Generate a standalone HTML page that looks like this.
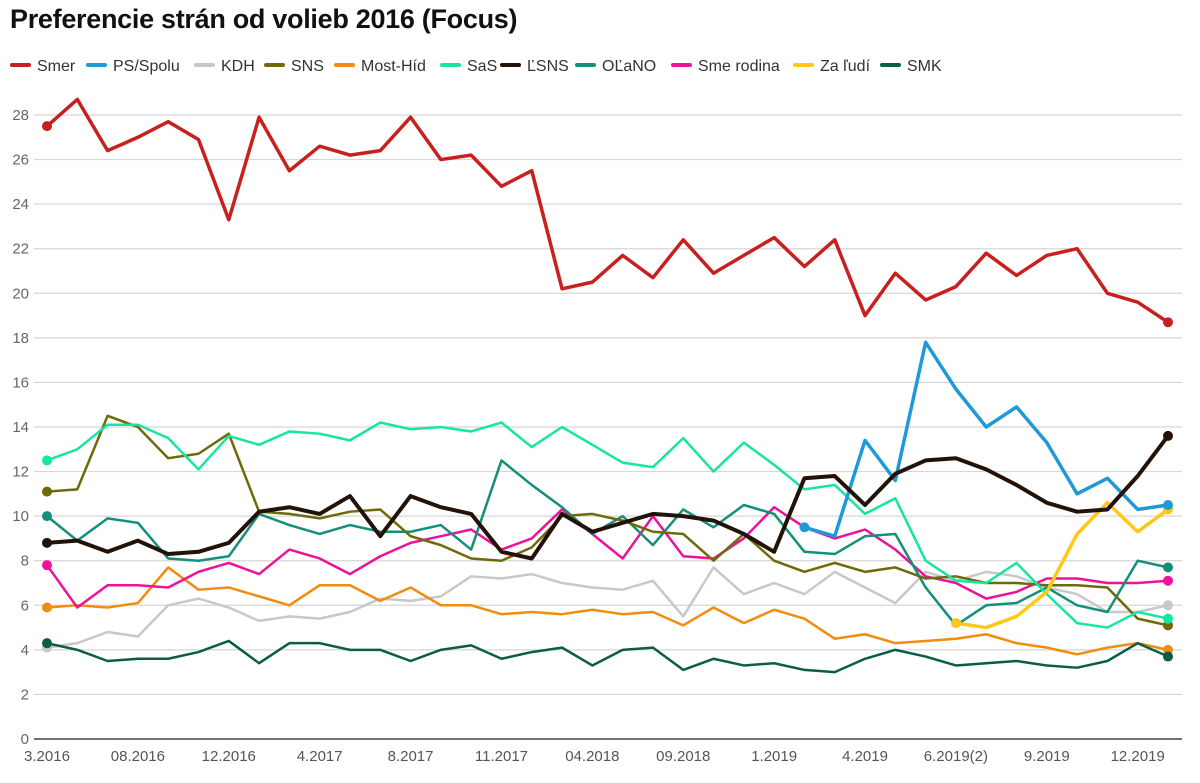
<!DOCTYPE html>
<html><head><meta charset="utf-8"><style>
body{margin:0;background:#fff;width:1200px;height:783px;overflow:hidden;font-family:"Liberation Sans",sans-serif;}
#title{position:absolute;left:10px;top:4px;font-size:27px;font-weight:bold;color:#111;letter-spacing:-0.3px}
.leg{position:absolute;top:58px;font-size:16px;color:#333;white-space:nowrap}
.leg i{display:inline-block;width:21px;height:4px;border-radius:2px;vertical-align:middle;margin-right:6px;position:relative;top:-2px}
svg{position:absolute;left:0;top:0}
</style></head><body>
<div id="title">Preferencie strán od volieb 2016 (Focus)</div>
<div id="legend"></div>
<svg id="chart" width="1200" height="783"></svg>
<script>
const categories=["3.2016","","","08.2016","","","12.2016","","","4.2017","","","8.2017","","","11.2017","","","04.2018","","","09.2018","","","1.2019","","","4.2019","","","6.2019(2)","","","9.2019","","","12.2019",""];
const yTicks=[0,2,4,6,8,10,12,14,16,18,20,22,24,26,28];
const names=["Smer","PS/Spolu","KDH","SNS","Most-Híd","SaS","ĽSNS","OĽaNO","Sme rodina","Za ľudí","SMK"];
const colors=["#c8201e","#1f9ad6","#c8c8c8","#6e6a0a","#f28c0f","#15e6a0","#231208","#13907a","#ee1199","#ffc814","#0b5e46"];
const smer=[27.5,28.7,26.4,27.0,27.7,26.9,23.3,27.9,25.5,26.6,26.2,26.4,27.9,26.0,26.2,24.8,25.5,20.2,20.5,21.7,20.7,22.4,20.9,21.7,22.5,21.2,22.4,19.0,20.9,19.7,20.3,21.8,20.8,21.7,22.0,20.0,19.6,18.7];
const ps=[null,null,null,null,null,null,null,null,null,null,null,null,null,null,null,null,null,null,null,null,null,null,null,null,null,9.5,9.1,13.4,11.6,17.8,15.7,14.0,14.9,13.3,11.0,11.7,10.3,10.5];
const kdh=[4.1,4.3,4.8,4.6,6.0,6.3,5.9,5.3,5.5,5.4,5.7,6.3,6.2,6.4,7.3,7.2,7.4,7.0,6.8,6.7,7.1,5.5,7.7,6.5,7.0,6.5,7.5,6.8,6.1,7.5,7.1,7.5,7.3,6.8,6.5,5.7,5.7,6.0];
const sns=[11.1,11.2,14.5,14.0,12.6,12.8,13.7,10.2,10.1,9.9,10.2,10.3,9.1,8.7,8.1,8.0,8.6,10.0,10.1,9.8,9.3,9.2,8.0,9.2,8.0,7.5,7.9,7.5,7.7,7.2,7.3,7.0,7.0,6.9,6.9,6.8,5.4,5.1];
const most=[5.9,6.0,5.9,6.1,7.7,6.7,6.8,6.4,6.0,6.9,6.9,6.2,6.8,6.0,6.0,5.6,5.7,5.6,5.8,5.6,5.7,5.1,5.9,5.2,5.8,5.4,4.5,4.7,4.3,4.4,4.5,4.7,4.3,4.1,3.8,4.1,4.3,4.0];
const sas=[12.5,13.0,14.1,14.1,13.5,12.1,13.6,13.2,13.8,13.7,13.4,14.2,13.9,14.0,13.8,14.2,13.1,14.0,13.2,12.4,12.2,13.5,12.0,13.3,12.3,11.2,11.4,10.1,10.8,8.0,7.1,7.0,7.9,6.5,5.2,5.0,5.7,5.4];
const lsns=[8.8,8.9,8.4,8.9,8.3,8.4,8.8,10.2,10.4,10.1,10.9,9.1,10.9,10.4,10.1,8.4,8.1,10.1,9.3,9.7,10.1,10.0,9.8,9.2,8.4,11.7,11.8,10.5,11.9,12.5,12.6,12.1,11.4,10.6,10.2,10.3,11.8,13.6];
const olano=[10.0,8.9,9.9,9.7,8.1,8.0,8.2,10.1,9.6,9.2,9.6,9.3,9.3,9.6,8.5,12.5,11.4,10.4,9.2,10.0,8.7,10.3,9.5,10.5,10.1,8.4,8.3,9.1,9.2,6.8,5.1,6.0,6.1,6.8,6.0,5.7,8.0,7.7];
const smeRodina=[7.8,5.9,6.9,6.9,6.8,7.5,7.9,7.4,8.5,8.1,7.4,8.2,8.8,9.1,9.4,8.5,9.0,10.3,9.2,8.1,10.0,8.2,8.1,9.0,10.4,9.5,9.0,9.4,8.5,7.3,7.0,6.3,6.6,7.2,7.2,7.0,7.0,7.1];
const zaLudi=[null,null,null,null,null,null,null,null,null,null,null,null,null,null,null,null,null,null,null,null,null,null,null,null,null,null,null,null,null,null,5.2,5.0,5.5,6.6,9.2,10.6,9.3,10.3];
const smk=[4.3,4.0,3.5,3.6,3.6,3.9,4.4,3.4,4.3,4.3,4.0,4.0,3.5,4.0,4.2,3.6,3.9,4.1,3.3,4.0,4.1,3.1,3.6,3.3,3.4,3.1,3.0,3.6,4.0,3.7,3.3,3.4,3.5,3.3,3.2,3.5,4.3,3.7];
const series=[smer,ps,kdh,sns,most,sas,lsns,olano,smeRodina,zaLudi,smk];
const widths=[3.5,3.5,2.5,2.5,2.5,2.5,4,2.5,2.5,3.5,2.5];
const drawOrder=[2,4,10,8,7,3,5,9,1,6,0];
const legX=[10,86,194,264,334,440,500,575,671,793,880];

const NS="http://www.w3.org/2000/svg";
const svg=document.getElementById('chart');
const x0=47,x1=1168,yBase=739,yTop=115,yMaxV=28;
function xs(i){return x0+(x1-x0)*i/(categories.length-1);}
function ys(v){return yBase-(yBase-yTop)*v/yMaxV;}
function mk(t,a){const e=document.createElementNS(NS,t);for(const k in a)e.setAttribute(k,a[k]);svg.appendChild(e);return e;}

yTicks.forEach(v=>{
  const g=mk('line',{x1:34,x2:1182,y1:ys(v),y2:ys(v),stroke:v===0?'#444':'#d6d6d6','stroke-width':v===0?1.5:1.2});
  
  
  const t=mk('text',{x:29,y:ys(v)+5,'font-size':15,fill:'#666','text-anchor':'end','font-family':'Liberation Sans, sans-serif'});
  t.textContent=v;
  
  
});
categories.forEach((c,i)=>{
  if(!c)return;
  const t=mk('text',{x:xs(i),y:761,'font-size':15,fill:'#555','text-anchor':'middle','font-family':'Liberation Sans, sans-serif'});
  t.textContent=c;
  
  
});
drawOrder.forEach(s=>{
  const d=series[s];let pts=[];
  d.forEach((v,i)=>{if(v!==null)pts.push([xs(i),ys(v)]);});
  const p=mk('polyline',{points:pts.map(p=>p.join(',')).join(' '),fill:'none',stroke:colors[s],'stroke-width':widths[s],'stroke-linejoin':'round','stroke-linecap':'round'});
  
  
  [pts[0],pts[pts.length-1]].forEach(q=>{
    const c=mk('circle',{cx:q[0],cy:q[1],r:5,fill:colors[s]});
    
    
  });
});
const leg=document.getElementById('legend');
names.forEach((n,i)=>{
  const d=document.createElement('div');d.className='leg';d.style.left=legX[i]+'px';
  d.innerHTML='<i style="background:'+colors[i]+'"></i>'+n;
  
  
  leg.appendChild(d);
});
</script>
</body></html>
